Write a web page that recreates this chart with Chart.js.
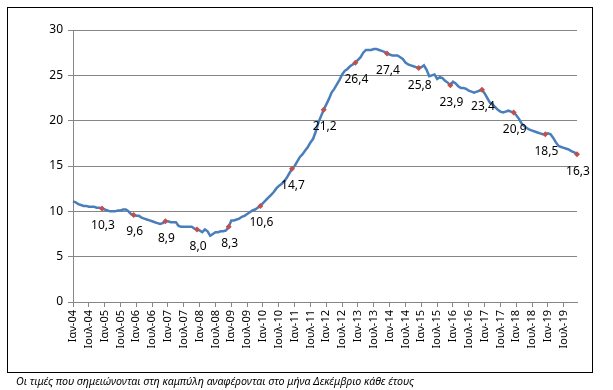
<!DOCTYPE html>
<html>
<head>
<meta charset="utf-8">
<script src="https://cdn.jsdelivr.net/npm/chart.js@4"></script>
<style>
  body { margin:0; background:#fff; }
  #wrap { position:relative; width:613px; height:390px; }
  #frame { position:absolute; left:7px; top:7px; width:584px; height:364px; border:1.5px solid #000; }
  #chartCanvas { position:absolute; left:0; top:0; }
  #note { position:absolute; left:16px; top:374px; font:italic 10.7px "Noto Sans", sans-serif; color:#000; white-space:nowrap; }
</style>
</head>
<body>
<div id="wrap">
  <div id="frame"></div>
  <canvas id="chartCanvas" width="613" height="390"></canvas>
  <div id="note">Οι τιμές που σημειώνονται στη καμπύλη αναφέρονται στο μήνα Δεκέμβριο κάθε έτους</div>
</div>
<script>
let monthNames = ['Ιαν', 'Φεβ', 'Μαρ', 'Απρ', 'Μαϊ', 'Ιουν', 'Ιουλ', 'Αυγ', 'Σεπ', 'Οκτ', 'Νοε', 'Δεκ'];
let years = ['04', '05', '06', '07', '08', '09', '10', '11', '12', '13', '14', '15', '16', '17', '18', '19'];

// monthly unemployment rate (%), one row per year
let rates = [
    [11.1, 11.0, 10.8, 10.7, 10.6, 10.6, 10.5, 10.5, 10.5, 10.4, 10.4, 10.3],
    [10.2, 10.1, 10.0, 10.0, 10.0, 10.1, 10.1, 10.2, 10.2, 10.0, 9.7, 9.6],
    [9.5, 9.5, 9.3, 9.2, 9.1, 9.0, 8.9, 8.8, 8.7, 8.6, 8.7, 8.9],
    [8.9, 8.8, 8.8, 8.8, 8.4, 8.3, 8.3, 8.3, 8.3, 8.3, 8.1, 8.0],
    [7.9, 7.7, 8.0, 7.8, 7.3, 7.5, 7.7, 7.7, 7.8, 7.8, 7.9, 8.3],
    [9.0, 9.0, 9.1, 9.2, 9.4, 9.5, 9.7, 9.9, 10.1, 10.2, 10.4, 10.6],
    [10.9, 11.2, 11.5, 11.8, 12.1, 12.5, 12.8, 13.0, 13.3, 13.7, 14.2, 14.7],
    [15.0, 15.5, 16.0, 16.3, 16.7, 17.1, 17.6, 18.0, 18.8, 19.8, 20.5, 21.2],
    [21.8, 22.4, 23.1, 23.5, 24.0, 24.5, 25.1, 25.5, 25.7, 26.0, 26.2, 26.4],
    [26.7, 27.0, 27.5, 27.8, 27.8, 27.8, 27.9, 27.9, 27.8, 27.7, 27.6, 27.4],
    [27.3, 27.2, 27.2, 27.2, 27.0, 26.8, 26.4, 26.2, 26.1, 26.0, 25.9, 25.8],
    [25.9, 26.1, 25.6, 24.9, 25.0, 25.1, 24.6, 24.8, 24.7, 24.4, 24.2, 23.9],
    [24.3, 24.1, 23.8, 23.6, 23.6, 23.5, 23.3, 23.2, 23.1, 23.2, 23.3, 23.4],
    [23.0, 22.5, 22.0, 21.8, 21.5, 21.2, 21.0, 20.9, 21.0, 21.1, 21.0, 20.9],
    [20.6, 20.2, 19.7, 19.4, 19.2, 19.0, 18.9, 18.8, 18.7, 18.6, 18.5, 18.5],
    [18.6, 18.5, 18.1, 17.6, 17.2, 17.1, 17.0, 16.9, 16.8, 16.6, 16.5, 16.3]
];

let yTicks = [0, 5, 10, 15, 20, 25, 30];

let labels = [];
years.forEach(y => monthNames.forEach(m => labels.push(m + '-' + y)));
let values = rates.flat();

function isDecember(i) { return i % 12 === 11; }

// December values written under the red markers
let decLabels = {
    id: 'decLabels',
    afterDatasetsDraw(chart) {
        let ctx = chart.ctx;
        let meta = chart.getDatasetMeta(0);
        ctx.save();
        ctx.font = '12px "Noto Sans", sans-serif';
        ctx.fillStyle = '#000';
        ctx.textAlign = 'center';
        ctx.textBaseline = 'middle';
        meta.data.forEach((pt, i) => {
            if (!isDecember(i)) return;
            ctx.fillText(values[i].toFixed(1).replace('.', ','), pt.x + 1, pt.y + 17);
        });
        ctx.restore();
    }
};

let ctx = document.getElementById('chartCanvas').getContext('2d');

let lineChart = new Chart(ctx, {
    type: 'line',
    data: {
        labels: labels,
        datasets: [{
            data: values,
            borderColor: '#4A7EBB',
            borderWidth: 2.5,
            tension: 0,
            pointStyle: 'rectRot',
            pointRadius: c => isDecember(c.dataIndex) ? 3 : 0,
            pointHoverRadius: 0,
            pointBackgroundColor: '#C0504D',
            pointBorderColor: '#C0504D',
            pointBorderWidth: 0
        }]
    },
    options: {
        responsive: false,
        animation: false,
        layout: { padding: { left: 0, right: 36, top: 30, bottom: 0 } },
        scales: {
            x: {
                offset: false,
                afterFit: s => { s.height = 88; },
                grid: { drawOnChartArea: false, drawTicks: true, tickLength: 5, color: '#868686' },
                border: { color: '#868686' },
                ticks: {
                    autoSkip: false,
                    maxRotation: 90,
                    minRotation: 90,
                    padding: 3,
                    color: '#000',
                    font: { family: '"Noto Sans", sans-serif', size: 11 },
                    callback: function (v, i) {
                        return (i % 6 === 0) ? labels[i] : null;
                    }
                }
            },
            y: {
                min: 0,
                max: 30,
                afterFit: s => { s.width = 73; },
                afterBuildTicks: s => { s.ticks = yTicks.map(v => ({ value: v })); },
                grid: { color: '#868686', tickLength: 5 },
                border: { color: '#868686' },
                ticks: {
                    padding: 5,
                    color: '#000',
                    font: { family: '"Noto Sans", sans-serif', size: 12 }
                }
            }
        },
        plugins: {
            legend: { display: false },
            tooltip: { enabled: false }
        }
    },
    plugins: [decLabels]
});
</script>
</body>
</html>
